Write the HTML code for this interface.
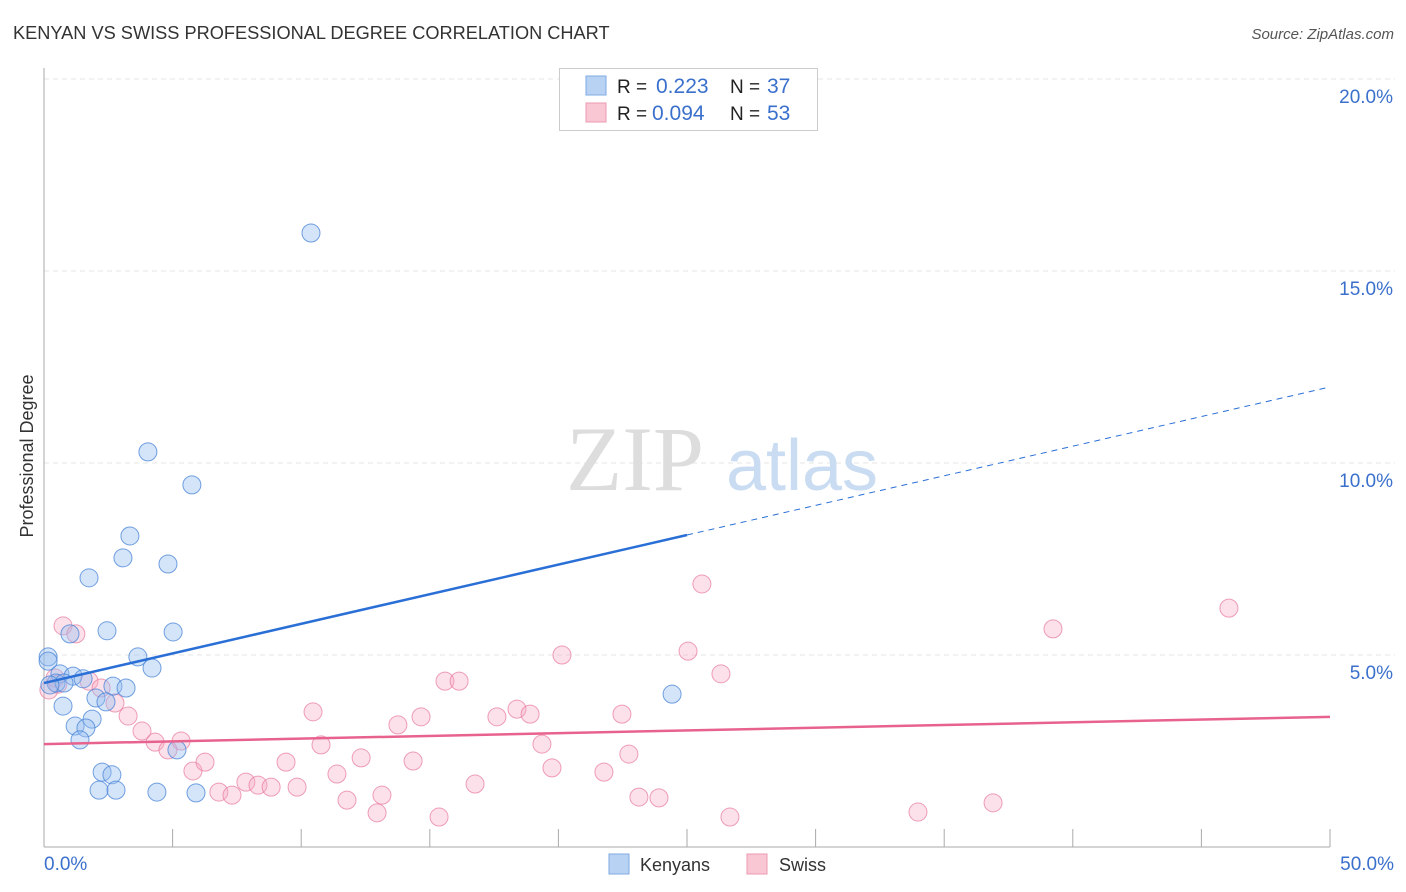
<!DOCTYPE html>
<html><head><meta charset="utf-8"><style>
body{margin:0;background:#fff;font-family:"Liberation Sans",sans-serif;}
svg{display:block}
</style></head><body>
<svg id="chart" width="1406" height="892">
<text x="13" y="39" font-size="18.2" fill="#333">KENYAN VS SWISS PROFESSIONAL DEGREE CORRELATION CHART</text>
<text x="1394" y="39" font-size="15" fill="#555" font-style="italic" text-anchor="end">Source: ZipAtlas.com</text>
<text x="0" y="0" transform="translate(33,456) rotate(-90)" font-size="18" fill="#333" text-anchor="middle">Professional Degree</text>
<g id="grid"></g>
<g><text x="635" y="490" font-size="92" font-family="Liberation Serif,serif" fill="#ddd" text-anchor="middle">ZIP</text><text x="802" y="490" font-size="72" fill="#c9dcf2" text-anchor="middle">atlas</text></g>
<g id="points"></g>
<g id="lines"></g>
<g>
<rect x="559.5" y="68.5" width="258" height="62" fill="#fff" stroke="#ccc"/>
<rect x="586" y="76" width="20" height="19" fill="#b8d2f4" stroke="#7fa9e0"/>
<rect x="586" y="103" width="20" height="19" fill="#f9c6d4" stroke="#ee9ab2"/>
<text x="617" y="93" font-size="19" fill="#222">R =</text><text x="656" y="93" font-size="21" fill="#3a70cc">0.223</text>
<text x="730" y="93" font-size="19" fill="#222">N =</text><text x="767" y="93" font-size="21" fill="#3a70cc">37</text>
<text x="617" y="120" font-size="19" fill="#222">R =</text><text x="652" y="120" font-size="21" fill="#3a70cc">0.094</text>
<text x="730" y="120" font-size="19" fill="#222">N =</text><text x="767" y="120" font-size="21" fill="#3a70cc">53</text>
</g>
<g>
<rect x="609" y="854" width="20" height="20" fill="#b8d2f4" stroke="#7fa9e0"/>
<text x="640" y="871" font-size="18" fill="#333">Kenyans</text>
<rect x="747" y="854" width="20" height="20" fill="#f9c6d4" stroke="#ee9ab2"/>
<text x="779" y="871" font-size="18" fill="#333">Swiss</text>
</g>
</svg>
<script>
const yTicks=[5,10,15,20];
const yTickLabels=["5.0%","10.0%","15.0%","20.0%"];
const xTickLabels=["0.0%","50.0%"];
const kenyanX=[10.38,4.04,5.75,3.34,3.07,4.82,1.75,2.45,5.02,1.01,0.16,3.65,0.16,4.20,0.62,1.13,1.52,0.47,0.78,2.68,3.19,2.02,2.41,0.74,1.87,1.21,1.63,1.40,5.17,2.26,2.64,2.14,2.80,4.39,5.91,24.42,0.23];
const kenyanY=[15.99,10.29,9.43,8.10,7.53,7.37,7.01,5.63,5.60,5.55,4.95,4.95,4.84,4.66,4.51,4.45,4.38,4.27,4.27,4.19,4.14,3.88,3.78,3.67,3.33,3.15,3.10,2.79,2.53,1.95,1.88,1.48,1.48,1.43,1.41,3.98,4.22];
const swissX=[0.74,1.24,0.19,0.43,0.54,1.75,2.22,2.76,3.27,3.81,4.32,4.82,5.33,5.79,6.26,6.80,7.31,7.85,8.32,8.83,9.41,9.84,10.46,10.77,11.39,11.78,12.33,12.95,13.14,13.76,14.35,14.66,15.36,15.59,16.14,16.76,17.61,18.39,18.90,19.36,19.75,20.14,21.77,22.47,22.74,23.13,23.91,25.04,25.58,26.32,26.67,33.98,36.90,39.23,46.07];
const swissY=[5.76,5.55,4.09,4.40,4.24,4.32,4.14,3.75,3.41,3.02,2.73,2.53,2.76,1.98,2.21,1.43,1.35,1.69,1.61,1.56,2.21,1.56,3.52,2.66,1.90,1.22,2.32,0.89,1.35,3.18,2.24,3.39,0.78,4.32,4.32,1.64,3.39,3.59,3.46,2.68,2.06,5.00,1.95,3.46,2.42,1.30,1.28,5.10,6.85,4.51,0.78,0.91,1.15,5.68,6.22];
const kenyanTrend=[4.27,11.98];
const swissTrend=[2.68,3.39];
const NS="http://www.w3.org/2000/svg";
const xs=v=>44+v*25.72, ys=v=>847-v*38.4;
function mk(t,a,p){const e=document.createElementNS(NS,t);for(const k in a)e.setAttribute(k,a[k]);p.appendChild(e);return e;}
const grid=document.getElementById('grid');
yTicks.forEach((t,i)=>{
 const l=mk('line',{x1:44,x2:1395,y1:ys(t),y2:ys(t),stroke:'#e4e4e4','stroke-dasharray':'5,4'},grid);
 
 
 const tx=mk('text',{x:1393,y:ys(t)+24,'font-size':19,fill:'#3a70cc','text-anchor':'end'},grid);
 tx.textContent=yTickLabels[i];
 
 
});
mk('line',{x1:44,x2:44,y1:68,y2:847,stroke:'#aaa'},grid);
mk('line',{x1:44,x2:1330,y1:847,y2:847,stroke:'#aaa'},grid);
for(let i=0;i<=10;i++){const t=mk('line',{x1:xs(i*5),x2:xs(i*5),y1:829,y2:847,stroke:'#aaa'},grid);
 
 }
[[0,'start',44],[50,'end',1394]].forEach((d,i)=>{const t=mk('text',{x:d[2],y:870,'font-size':19,fill:'#3a70cc','text-anchor':d[1]},grid);t.textContent=xTickLabels[i];
 
 });
const pts=document.getElementById('points');
swissX.forEach((x,i)=>{const c=mk('circle',{cx:xs(x),cy:ys(swissY[i]),r:9,fill:'rgba(245,170,195,0.35)',stroke:'rgba(232,120,155,0.7)','stroke-width':1},pts);
 
 });
kenyanX.forEach((x,i)=>{const c=mk('circle',{cx:xs(x),cy:ys(kenyanY[i]),r:9,fill:'rgba(150,190,240,0.4)',stroke:'rgba(70,130,215,0.75)','stroke-width':1},pts);
 
 });
const ln=document.getElementById('lines');
const kAt=x=>kenyanTrend[0]+(kenyanTrend[1]-kenyanTrend[0])*x/50;
let a=mk('line',{x1:xs(0),y1:ys(kAt(0)),x2:xs(25),y2:ys(kAt(25)),stroke:'#2a6fd6','stroke-width':2.5},ln);


a=mk('line',{x1:xs(25),y1:ys(kAt(25)),x2:xs(50),y2:ys(kAt(50)),stroke:'#2a6fd6','stroke-width':1,'stroke-dasharray':'6,5'},ln);


a=mk('line',{x1:xs(0),y1:ys(swissTrend[0]),x2:xs(50),y2:ys(swissTrend[1]),stroke:'#e8628e','stroke-width':2.5},ln);


</script>
</body></html>
